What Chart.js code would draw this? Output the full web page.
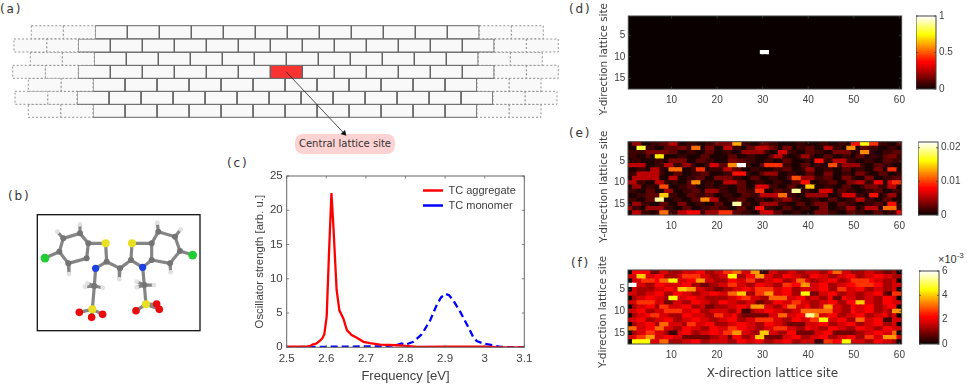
<!DOCTYPE html>
<html><head><meta charset="utf-8">
<script src="https://cdn.jsdelivr.net/npm/chart.js@4"></script>
<style>
html,body{margin:0;padding:0;background:#fff;width:967px;height:389px;overflow:hidden}
body{filter:blur(0.35px)}
canvas{position:absolute;display:block}
.t{position:absolute;font-family:"DejaVu Sans";color:#333;white-space:nowrap;line-height:1}
.p{font-size:12px;letter-spacing:1.8px}
#pill{left:295px;top:134px;width:100px;height:20px;border-radius:8px;background:#fcd2d2;font-size:10px;line-height:20px;text-align:center}
</style></head><body>
<div class="t p" style="left:0;top:3px">(a)</div>
<div class="t p" style="left:8px;top:190px">(b)</div>
<div class="t p" style="left:227px;top:157px">(c)</div>
<div class="t p" style="left:569px;top:3px">(d)</div>
<div class="t p" style="left:569px;top:127px">(e)</div>
<div class="t p" style="left:571px;top:257px">(f)</div>
<div class="t" id="pill">Central lattice site</div>
<div class="t" style="left:938px;top:254px;font-size:11px;font-family:'Liberation Sans'">×10<sup style="font-size:8px;line-height:0">-3</sup></div>
<script>
// ---------- panel (c) spectra
const aggFreq=[2.5,2.55,2.56,2.565,2.575,2.585,2.59,2.595,2.601,2.607,2.613,2.618,2.626,2.633,2.643,2.652,2.664,2.677,2.694,2.71,2.736,2.778,2.8,2.83,2.9,3,3.03,3.1];
const aggVal=[0.1,0.1,0.2,0.4,0.55,1,1.3,1.9,4.5,14,22.5,17.6,8.4,5.4,4.2,2.5,1.8,1.4,0.8,0.6,0.4,0.3,0.2,0.05,0.1,0.1,0.02,0];
const monoFreq=[2.5,2.55,2.75,2.78,2.79,2.8,2.82,2.841,2.862,2.879,2.89,2.9,2.91,2.92,2.939,2.959,2.971,2.98,2.997,3.02,3.04,3.1];
const monoVal=[0,0.05,0.15,0.35,0.55,0.4,0.8,1.9,3.9,6.2,7.3,7.8,7.6,6.9,5.1,2.9,1.5,0.9,0.55,0.3,0.05,0];
const freqTicks=[2.5,2.6,2.7,2.8,2.9,3,3.1];
const strengthTicks=[0,5,10,15,20,25];
// ---------- heat maps: columns 1..60, rows 1..17
const xSiteTicks=[10,20,30,40,50,60];
const ySiteTicks=[5,10,15];
const heatDBright=[[30,9,1],[31,9,1]];
// panel (e): one base-36 digit per cell, unit 0.001
const heatERows=[
"0440011225 5001100113 333dd11002 2110000110 0011001108 8gg9911002",
"00hh110022 2331bb0330 0551102255 5320330112 20055110cc 0221100110",
"1111333332 2001100220 0110044444 1006611002 2110033330 1cc1001122",
"110020ff00 0110002200 0022001100 0255100144 1002200110 2201102331",
"0110001103 3330022110 0033221100 1100220001 0881155511 0011002211",
"5555001155 1144100166 22ccmm1002 9999110022 0110aa1444 4100221100",
"001105510b bb00199011 1552200110 0011220014 4001100220 1100330990",
"1155555100 2200112200 0118881002 4440011002 2003300110 3310022001",
"0555555005 5001122003 3331100220 011002aa44 4112200331 0033001122",
"5511005510 1002cc0110 0555220011 0011002288 0011220033 5511770699",
"0440110aa0 0112200110 1100220066 611002200e e001100220 0133311550",
"1100220044 0011220444 1100221199 002211jj11 0066602211 0011220011",
"0011222ee1 1002211220 0110022115 555bb11004 4444001666 1108801440",
"110022jj00 110022cc55 0011220011 0022441100 1100220011 5511002200",
"0441100220 0330011002 200jj11004 4441100220 1333002211 0011220880",
"4110444411 0022001122 1100220088 1100220011 0033001144 015550bbb1",
"0551101bb1 1557771444 9992211006 6622001100 0333110022 1100220117"];
const heatEBase=0.0006, heatEUnit=0.001;
// panel (f): one base-36 digit per cell, unit 0.00045
const heatFRows=[
"0555522443 3344455334 4667744881 1443344334 4433577443 3344332230",
"4499445533 3466664433 44aa335588 4433554433 5544334455 3344554433",
"044666577a a445588443 3355446633 4455334774 3344553346 6665443340",
"ee44335544 4455332233 4466443355 4433665588 4455334455 6666553344",
"0433334455 4998844332 2334455466 6644553344 4455336644 5533443340",
"4433445533 5544334455 4477993366 88445533aa 2244553344 3344552166",
"034455443a a445544333 3344566443 3777744553 4433522544 3344335540",
"4466664422 4433554433 5544334422 3355446644 3344553355 9944335544",
"0344553664 4455334223 3344554888 4433577445 3348844335 4455334550",
"4455334466 6644553344 4433511344 5544334477 7777744335 4455334388",
"0344566443 3355444336 6445322222 244774455c c844553344 5533445340",
"4455334455 3344554433 4455334466 6644335544 66aa445533 7744551144",
"0344553774 4436644553 3344554433 5544322224 4455334455 3344553340",
"7744557744 3355443355 4466554433 4466644335 4433554433 5544335544",
"0344664431 1455334455 4668844339 9443355222 2445522222 3344554470",
"4466884455 4422222233 4425533499 2222445533 4455334455 3366448884",
"0aaaa44773 3344553344 4433554455 3344553344 4116655aa4 4433554430"];
const heatFUnit=0.45;
const cbMaxD=1, cbMaxE=0.0217, cbMaxF=6;
const cbTicksD=[0,0.5,1], cbLabelsD=["0","0.5","1"];
const cbTicksE=[0,0.01,0.02], cbLabelsE=["0","0.01","0.02"];
const cbTicksF=[0,2,4,6], cbLabelsF=["0","2","4","6"];
// ---------- panel (a) brick lattice rows
const brickRowTop=[25.7,39,52.3,65.3,78.3,91.3,104.3];
const brickHeight=13, brickWidth=32;
const brickSolidStart=[95.3,78.3,94.3,78.3,93,77,93];
const brickSolidCount=[12,13,12,13,12,13,12];
const brickDashLeft=[[31.3,63.3],[14,46.7],[30.3,62.3],[12.7,45.3],[28.3,61],[15,47.7],[28.3,60.7]];
const centralBrick=[3,6];
const arrowX=[286,344], arrowY=[71.7,133.3];
// ---------- panel (b) molecule
const atomNames=["C","C","C","C","C","C","H","H","H","Cl","S","N","C","C","H","C","S","C","C","N","C","C","C","C","H","H","H","Cl","C","H","H","H","S","O","O","O","C","H","H","H","S","O","O","O"];
const atomX=[240,190,178,205,260,265,240,172,207,135,317,287,320,360,358,393,396,455,455,428,475,525,540,510,472,542,512,578,283,255,262,308,277,238,275,308,433,410,462,410,438,408,470,478];
const atomY=[160,175,215,250,235,190,133,155,282,234,190,265,245,265,298,240,190,190,240,262,155,170,213,250,128,148,277,225,318,320,310,323,388,397,412,403,315,322,315,305,373,392,372,388];
const bondA=[0,1,2,3,4,5,0,1,3,2,5,10,12,12,13,13,15,15,16,17,18,17,20,21,22,23,20,21,23,22,11,28,28,28,28,32,32,32,19,36,36,36,36,40,40,40];
const bondB=[1,2,3,4,5,0,6,7,8,9,10,12,11,13,14,15,16,19,17,18,19,20,21,22,23,18,24,25,26,27,28,29,30,31,32,33,34,35,36,37,38,39,40,41,42,43];
const atomColor={C:"#747474",H:"#e2e2e2",S:"#e8e020",N:"#1e40e0",O:"#e80c0c",Cl:"#22cc33"};
const atomRadius={C:3,H:2.4,S:4,N:3.6,O:3.8,Cl:4.4};

const TXT="#404040";
const hot=t=>{t=Math.max(0,Math.min(1,t));const r=Math.min(1,(t+1/64)/(3/8)),g=Math.max(0,Math.min(1,(t-3/8)/(3/8))),b=Math.max(0,(t-6/8)/(2/8));
 return `rgb(${Math.round(r*255)},${Math.round(g*255)},${Math.round(b*255)})`;};
Chart.defaults.animation=false;Chart.defaults.responsive=false;Chart.defaults.devicePixelRatio=1;
Chart.defaults.plugins.legend.display=false;Chart.defaults.plugins.tooltip.enabled=false;
const matlabFrame={id:"matlabFrame",afterDraw(ch,_,o){
 if(o.hide)return;
 const a=ch.chartArea,c=ch.ctx;c.save();c.strokeStyle=o.color||"#555";c.lineWidth=o.width||1;
 c.strokeRect(a.left,a.top,a.right-a.left,a.bottom-a.top);
 const L=o.tick==null?2.5:o.tick;c.lineWidth=0.8;c.beginPath();
 for(const id of ["x","y"]){const s=ch.scales[id];if(!s||!s.options.display)continue;
  for(const t of s.ticks){const p=s.getPixelForValue(t.value);
   if(id==="x"){c.moveTo(p,a.bottom);c.lineTo(p,a.bottom-L);c.moveTo(p,a.top);c.lineTo(p,a.top+L);}
   else{c.moveTo(a.left,p);c.lineTo(a.left+L,p);c.moveTo(a.right,p);c.lineTo(a.right-L,p);}}}
 c.stroke();c.restore();}};
Chart.register(matlabFrame);
function canvas(l,t,w,h){const c=document.createElement("canvas");c.width=w;c.height=h;c.style.left=l+"px";c.style.top=t+"px";c.style.width=w+"px";c.style.height=h+"px";document.body.appendChild(c);return c;}
const fixTicks=v=>s=>{s.ticks=v.map(value=>({value}));};
const pad=(center,size)=>center-size*1.2/2;
const font=(family,size)=>({family,size});
const noGrid={display:false,drawTicks:false};

// ---------- heat map builder
function heatMap(box,rows,unit,base,maxV,yTitle,yTitleC,xTitle,xTitleC,yTitleSize){
 const data=[],colors=[];
 rows.forEach((r,j)=>{r.forEach((v,i)=>{data.push({x:i+1,y:[j+0.5,j+1.52]});colors.push(hot((v*unit+base)/maxV));});});
 const cw=box.right-box.left,W=320,H=box.canvasB-box.canvasT;
 const xs={type:"linear",offset:false,min:0.5,max:60.5,afterBuildTicks:fixTicks(xSiteTicks),afterFit:s=>{s.height=box.canvasB-box.bottom;},grid:noGrid,border:{display:false},
  ticks:{color:TXT,font:font("Liberation Sans",10),padding:box.xPad,maxRotation:0,autoSkip:false,callback:v=>String(v)}};
 if(xTitle)xs.title={display:true,text:xTitle,color:TXT,font:font("DejaVu Sans",12),padding:{top:0,bottom:box.canvasB-xTitleC-7.2}};
 new Chart(canvas(590,box.canvasT,W,H),{type:"bar",
  data:{datasets:[{data,backgroundColor:colors,borderWidth:0,barThickness:cw/60+0.5,grouped:false}]},
  options:{layout:{autoPadding:false,padding:{left:0,top:box.top-box.canvasT,right:W-(box.right-590),bottom:0}},
   plugins:{matlabFrame:{color:"#444"}},
   scales:{x:xs,y:{type:"linear",reverse:true,min:0.5,max:17.5,afterBuildTicks:fixTicks(ySiteTicks),afterFit:s=>{s.width=box.left-590;},grid:noGrid,border:{display:false},
    ticks:{color:TXT,font:font("Liberation Sans",10),padding:3,callback:v=>String(v)},
    title:{display:true,text:yTitle,color:TXT,font:font("DejaVu Sans",yTitleSize),padding:{top:pad(yTitleC-590,yTitleSize),bottom:0}}}}}});
}
function colorBar(box,maxV,tickVals,tickLabels){
 const levels=[...Array(64).keys()];
 const W=48,H=box.bottom-box.top+20;
 new Chart(canvas(box.left,box.top-10,W,H),{type:"bar",
  data:{datasets:[{data:levels.map(i=>({x:0.5,y:[i/64*maxV,(i+1.15)/64*maxV]})),backgroundColor:levels.map(i=>hot((i+0.5)/64)),borderWidth:0,barThickness:box.width,grouped:false}]},
  options:{layout:{autoPadding:false,padding:{left:0,top:10,bottom:10,right:0}},
   plugins:{matlabFrame:{color:"#444",tick:2}},
   scales:{x:{type:"linear",offset:false,display:false,min:0,max:1},
    y:{type:"linear",position:"right",min:0,max:maxV,afterBuildTicks:fixTicks(tickVals),afterFit:s=>{s.width=W-box.width;},grid:noGrid,border:{display:false},
     ticks:{color:TXT,font:font("Liberation Sans",10),padding:3,callback:v=>tickLabels[tickVals.indexOf(v)]}}}}});
}
const parseRows=rows=>rows.map(r=>r.replace(/ /g,"").split("").map(d=>parseInt(d,36)));
const heatD=Array.from({length:17},()=>Array(60).fill(0));
heatDBright.forEach(([c,r,v])=>{heatD[r-1][c-1]=v;});

heatMap({left:628.3,right:903.3,top:16,bottom:89,canvasT:0,canvasB:125,xPad:5},heatD,1,0,cbMaxD,"Y-direction lattice site    ",604,null,0,10.4);
colorBar({left:915.5,top:16,bottom:89,width:20},cbMaxD,cbTicksD,cbLabelsD);
heatMap({left:628,right:905,top:141.7,bottom:215,canvasT:125,canvasB:250,xPad:5},parseRows(heatERows),heatEUnit,heatEBase,cbMaxE,"Y-direction lattice site     ",604,null,0,10.4);
colorBar({left:917.7,top:142,bottom:215,width:20},cbMaxE,cbTicksE,cbLabelsE);
heatMap({left:628,right:906.7,top:270,bottom:344,canvasT:255,canvasB:389,xPad:5},parseRows(heatFRows),heatFUnit,0,cbMaxF,"Y-direction lattice site   ",603,"    X-direction lattice site",374,10.4);
colorBar({left:919,top:270.5,bottom:344,width:20},cbMaxF,cbTicksF,cbLabelsF);

// ---------- panel (c)
const cW=340,cH=239;
new Chart(canvas(220,150,cW,cH),{type:"scatter",
 data:{datasets:[
  {label:"TC aggregate",data:aggFreq.map((x,i)=>({x,y:aggVal[i]})),showLine:true,borderColor:"#ff0000",backgroundColor:"#ff0000",borderWidth:2.3,pointRadius:0},
  {label:"TC monomer",data:monoFreq.map((x,i)=>({x,y:monoVal[i]})),showLine:true,borderColor:"#0000ff",backgroundColor:"#0000ff",borderWidth:2.3,borderDash:[7,4],pointRadius:0}]},
 options:{layout:{autoPadding:false,padding:{left:0,top:26,right:cW-304.3,bottom:0}},
  plugins:{matlabFrame:{color:"#666",tick:2.5},
   legend:{display:true,position:"chartArea",align:"start",labels:{color:TXT,font:font("Liberation Sans",11),usePointStyle:true,pointStyle:"line",pointStyleWidth:20,padding:4,boxHeight:11}}},
  scales:{x:{type:"linear",min:2.5,max:3.1,afterBuildTicks:fixTicks(freqTicks),afterFit:s=>{s.height=41.7;},grid:noGrid,border:{display:false},
    ticks:{color:TXT,font:font("Liberation Sans",11.5),padding:5,maxRotation:0,autoSkip:false,callback:v=>String(v)},
    title:{display:true,text:"Frequency [eV]",color:TXT,font:font("Liberation Sans",13),padding:{top:0,bottom:239-(376-150)-7.8}}},
   y:{type:"linear",min:0,max:25,afterBuildTicks:fixTicks(strengthTicks),afterFit:s=>{s.width=66.7;},grid:noGrid,border:{display:false},
    ticks:{color:TXT,font:font("Liberation Sans",11.5),padding:4,callback:v=>String(v)},
    title:{display:true,text:"Oscillator strength [arb. u.]",color:TXT,font:font("Liberation Sans",11.4),padding:{top:pad(260-220,11.4),bottom:0}}}}},
 plugins:[{id:"legendPlace",afterLayout(ch){const l=ch.legend;const dx=419-220-l.left,dy=181-150-l.top;l.left+=dx;l.right+=dx;l.top+=dy;l.bottom+=dy;}}]});

// ---------- panel (a)
const brickSets=[];
const brick=(x0,x1,y,dashed,red)=>({data:[{x:x0,y},{x:x1,y},{x:x1,y:y+brickHeight},{x:x0,y:y+brickHeight},{x:x0,y}],showLine:true,pointRadius:0,tension:0,fill:"shape",
 backgroundColor:red?"#f93232":"#f9f9f9",borderColor:dashed?"#8a8a8a":"#666",borderWidth:dashed?0.9:1,borderDash:dashed?[2,2]:[]});
brickRowTop.forEach((y,r)=>{
 const s=brickSolidStart[r],n=brickSolidCount[r],dl=brickDashLeft[r],e=s+n*brickWidth;
 brickSets.push(brick(dl[0],dl[1],y,true),brick(dl[1],s,y,true));
 brickSets.push(brick(e,e+brickWidth,y,true),brick(e+brickWidth,e+2*brickWidth,y,true));
 for(let k=0;k<n;k++)brickSets.push(brick(s+k*brickWidth,s+(k+1)*brickWidth,y,false,r===centralBrick[0]&&k===centralBrick[1]));
});
brickSets.push({order:-1,data:arrowX.map((x,i)=>({x,y:arrowY[i]})),showLine:true,borderColor:"#222",backgroundColor:"#111",borderWidth:0.8,pointRadius:[0,3.5],pointStyle:"triangle",rotation:137,pointBorderWidth:0});
new Chart(canvas(0,0,570,160),{type:"scatter",data:{datasets:brickSets},
 options:{layout:{autoPadding:false,padding:0},plugins:{matlabFrame:{hide:true},filler:{propagate:false}},
  scales:{x:{type:"linear",display:false,min:0,max:570},y:{type:"linear",display:false,reverse:true,min:0,max:160}}}});

// ---------- panel (b)
const molSets=bondA.map((a,i)=>({data:[{x:atomX[a],y:atomY[a]},{x:atomX[bondB[i]],y:atomY[bondB[i]]}],showLine:true,pointRadius:0,borderColor:"#858585",borderWidth:3.2}));
molSets.push({order:-1,data:atomX.map((x,i)=>({x,y:atomY[i]})),showLine:false,pointRadius:atomNames.map(n=>atomRadius[n]),pointBackgroundColor:atomNames.map(n=>atomColor[n]),pointBorderWidth:0});
new Chart(canvas(30,208,177,130),{type:"scatter",data:{datasets:molSets},
 options:{layout:{autoPadding:false,padding:{left:7.3,top:6.7,right:7,bottom:7.3}},plugins:{matlabFrame:{color:"#111",width:1.3,tick:0}},
  scales:{x:{type:"linear",display:false,min:112,max:600},y:{type:"linear",display:false,reverse:true,min:104,max:452}}}});
</script>
</body></html>
